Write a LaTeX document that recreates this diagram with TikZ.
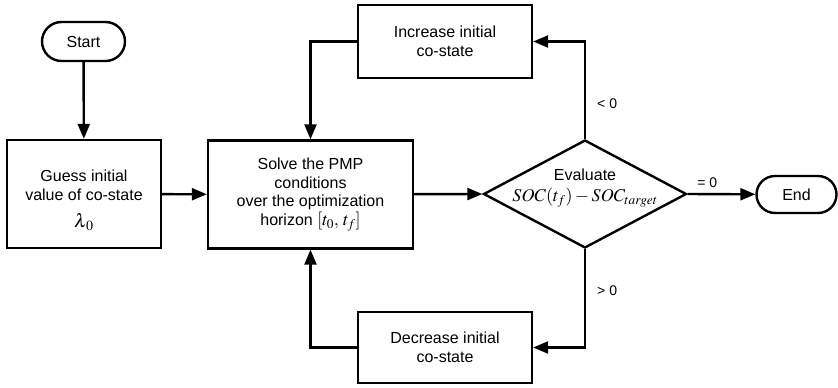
\documentclass[tikz,border=0pt]{standalone}
\usepackage{mathptmx}
\usepackage{fontspec}
\setmainfont{Liberation Sans}
\usetikzlibrary{arrows.meta,shapes.geometric,shapes.misc}
\begin{document}
\begin{tikzpicture}[x=1pt,y=-1pt,
  font=\fontsize{16}{18.6}\selectfont,
  box/.style={draw, line width=2.4pt, align=center, inner sep=0pt},
  term/.style={draw, rounded rectangle, line width=2.4pt, inner sep=0pt},
  link/.style={line width=2.4pt, -{Triangle[length=15pt,width=12pt]}},
  lab/.style={font=\fontsize{14}{16}\selectfont, inner sep=0pt}]
\useasboundingbox (0,0) rectangle (838,388);
\node[term, minimum width=83pt, minimum height=39pt] (start) at (83.5,41.5) {Start};
\node[box, minimum width=154pt, minimum height=108pt] (guess) at (84,194) {};
\node[align=center, inner sep=0pt] (guesstxt) at (84,185) {Guess initial\\value of co-state};
\node[inner sep=0pt, font=\fontsize{19}{20}\selectfont] (lam) at (84,222) {${\lambda}_{\mkern2mu 0}$};
\node[box, minimum width=205pt, minimum height=108pt] (solve) at (310.5,194.5) {Solve the PMP\\conditions\\over the optimization\\horizon {\fontsize{18}{18.6}\selectfont$[t_0,\,t_f]$}};
\node[box, minimum width=174pt, minimum height=73pt] (inc) at (445,41.5) {Increase initial\\co-state};
\node[box, minimum width=174pt, minimum height=71pt] (dec) at (445,347.5) {Decrease initial\\co-state};
\node[draw, diamond, line width=2.4pt, minimum width=203pt, minimum height=108pt, inner sep=0pt] (dia) at (585,194) {};
\node[align=center, inner sep=0pt] (evaltxt) at (585,188) {Evaluate\\[3pt]{\fontsize{18}{18.6}\selectfont$SOC(t_f)-SOC_{target}$}};
\node[term, minimum width=80pt, minimum height=37pt] (end) at (796.5,194.5) {End};
\draw[link] (start) -- (guess);
\draw[link] (guess) -- (solve);
\draw[link] (solve) -- (dia.west);
\draw[link] (dia.east) -- node[lab, above=5pt, pos=0.29] {= 0} (end);
\draw[link] (dia.north) |- node[lab, anchor=west, xshift=11pt, pos=0.18] {< 0} (inc);
\draw[link] (dia.south) |- node[lab, anchor=west, xshift=11pt, pos=0.21] {> 0} (dec);
\draw[link] (inc.west) -| (solve.north);
\draw[link] (dec.west) -| (solve.south);
\end{tikzpicture}
\end{document}
